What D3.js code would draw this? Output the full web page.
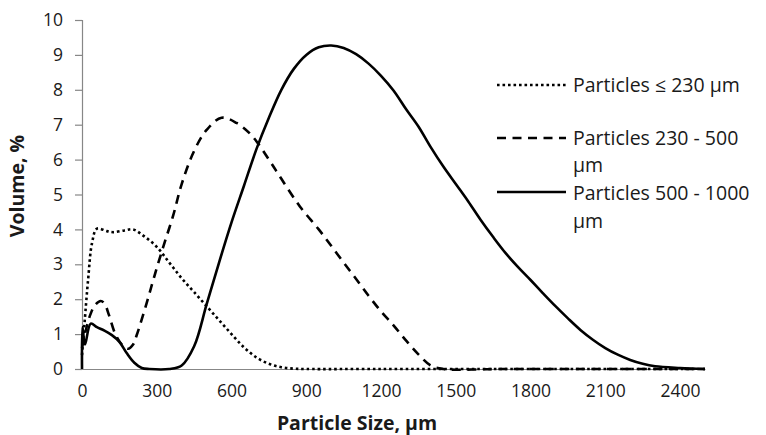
<!DOCTYPE html>
<html>
<head>
<meta charset="utf-8">
<script src="https://cdn.jsdelivr.net/npm/d3@7"></script>
<style>
  html, body { margin: 0; padding: 0; background: #fff; }
  svg { display: block; font-family: "Open Sans", "Liberation Sans", sans-serif; }
</style>
</head>
<body>
<svg id="chart" width="766" height="435"></svg>
<script>
// Particle size distributions (volume %) for three sieve fractions
const sizeFine = [0, 10, 25, 40, 60, 100, 125, 170, 205, 250, 300, 350, 400, 450, 500, 550, 600, 650, 700, 750, 800, 850, 900, 1200, 1600, 2000, 2500];
const volFine  = [0.4, 1.3, 2.6, 3.6, 4.02, 3.95, 3.92, 3.97, 4.0, 3.8, 3.5, 3.05, 2.6, 2.2, 1.8, 1.4, 1.0, 0.62, 0.33, 0.15, 0.05, 0.01, 0, 0, 0, 0, 0];

const sizeMid = [0, 15, 33, 52, 75, 90, 108, 132, 160, 185, 205, 220, 260, 290, 326, 366, 400, 450, 500, 560, 620, 680, 750, 800, 875, 950, 1000, 1050, 1100, 1150, 1200, 1250, 1300, 1350, 1400, 1450, 1500, 1600, 1700, 2100, 2500];
const volMid  = [0.6, 1.1, 1.55, 1.83, 1.95, 1.88, 1.55, 1.03, 0.7, 0.58, 0.7, 0.98, 1.9, 2.65, 3.5, 4.4, 5.3, 6.25, 6.85, 7.2, 7.05, 6.7, 6.0, 5.45, 4.65, 4.0, 3.53, 3.05, 2.58, 2.1, 1.65, 1.25, 0.82, 0.42, 0.1, 0.0, -0.02, -0.01, 0, 0, 0];

const sizeCoarse = [0, 2, 12, 35, 60, 90, 120, 150, 180, 210, 240, 270, 350, 400, 450, 500, 550, 600, 650, 700, 750, 800, 850, 900, 950, 1000, 1050, 1100, 1150, 1200, 1250, 1300, 1350, 1400, 1450, 1500, 1550, 1600, 1650, 1700, 1750, 1800, 1850, 1900, 1950, 2000, 2050, 2100, 2150, 2200, 2250, 2300, 2400, 2500];
const volCoarse  = [0, 1.2, 0.7, 1.3, 1.2, 1.1, 0.97, 0.78, 0.45, 0.18, 0.03, 0, 0, 0.1, 0.65, 1.85, 3.05, 4.2, 5.25, 6.3, 7.2, 8.0, 8.6, 9.0, 9.22, 9.27, 9.2, 9.02, 8.75, 8.4, 7.98, 7.45, 6.95, 6.35, 5.8, 5.3, 4.8, 4.27, 3.78, 3.32, 2.92, 2.55, 2.17, 1.8, 1.45, 1.12, 0.84, 0.6, 0.41, 0.26, 0.15, 0.08, 0.03, 0];

const xTicks = [0, 300, 600, 900, 1200, 1500, 1800, 2100, 2400];
const yTicks = [0, 1, 2, 3, 4, 5, 6, 7, 8, 9, 10];

const seriesNames = [["Particles \u2264 230 \u00b5m"], ["Particles 230 - 500", "\u00b5m"], ["Particles 500 - 1000", "\u00b5m"]];
const xTitle = "Particle Size, \u00b5m";
const yTitle = "Volume, %";

const series = [
  { x: sizeFine,   y: volFine,   dash: "2.6,2.9" },
  { x: sizeMid,    y: volMid,    dash: "9,6.5" },
  { x: sizeCoarse, y: volCoarse, dash: null }
];

const svg = d3.select("#chart");
const axisColor = "#878787";
const textColor = "#1a1a1a";

const x = d3.scaleLinear().domain([0, 2500]).range([82, 705]);
const y = d3.scaleLinear().domain([0, 10]).range([369, 20]);

// y axis with outward ticks
const yAxis = svg.append("g").attr("transform", `translate(${x(0)},0)`)
  .call(d3.axisLeft(y).tickValues(yTicks).tickSize(7).tickPadding(12).tickFormat(d3.format("d")));
yAxis.select(".domain").attr("stroke", axisColor).attr("stroke-width", 1.2);
yAxis.selectAll(".tick line").attr("stroke", axisColor).attr("stroke-width", 1.2);
yAxis.selectAll("text").attr("font-size", 17.5).attr("fill", textColor).attr("font-family", "Open Sans");

// x axis, labels only
const xAxis = svg.append("g").attr("transform", `translate(0,${y(0)})`)
  .call(d3.axisBottom(x).tickValues(xTicks).tickSize(0).tickPadding(16).tickFormat(d3.format("d")));
xAxis.select(".domain").attr("stroke", axisColor).attr("stroke-width", 1.2);
xAxis.selectAll("text").attr("font-size", 17.5).attr("fill", textColor).attr("font-family", "Open Sans");

// axis titles
svg.append("text")
  .attr("x", 357).attr("y", 430)
  .attr("text-anchor", "middle")
  .attr("font-size", 19.5).attr("font-weight", "bold").attr("fill", textColor)
  .text(xTitle);

svg.append("text")
  .attr("transform", "translate(24,186) rotate(-90)")
  .attr("text-anchor", "middle")
  .attr("font-size", 19.5).attr("font-weight", "bold").attr("fill", textColor)
  .text(yTitle);

// smoothed distribution curves
const line = d3.line().x(d => x(d[0])).y(d => y(d[1])).curve(d3.curveCatmullRom.alpha(0.5));

series.forEach(s => {
  const pts = s.x.map((v, i) => [v, s.y[i]]);
  svg.append("path")
    .datum(pts)
    .attr("d", line)
    .attr("fill", "none")
    .attr("stroke", "#000")
    .attr("stroke-width", 2.6)
    .attr("stroke-linejoin", "round")
    .attr("stroke-dasharray", s.dash);
});

// legend: sample line plus wrapped label
const legendY = [85, 138, 192];
const lineGap = [0, 27.5, 28.5];
const legend = svg.append("g");
series.forEach((s, i) => {
  const g = legend.append("g").attr("transform", `translate(0,${legendY[i]})`);
  g.append("line")
    .attr("x1", 497).attr("x2", 566).attr("y1", 0).attr("y2", 0)
    .attr("stroke", "#000").attr("stroke-width", 2.6)
    .attr("stroke-dasharray", s.dash);
  g.selectAll("text").data(seriesNames[i]).join("text")
    .attr("x", 573)
    .attr("y", (d, k) => (i === 2 ? 7.5 : 6.5) + k * lineGap[i])
    .attr("font-size", 19.5)
    .attr("fill", textColor)
    .text(d => d);
});
</script>
</body>
</html>
